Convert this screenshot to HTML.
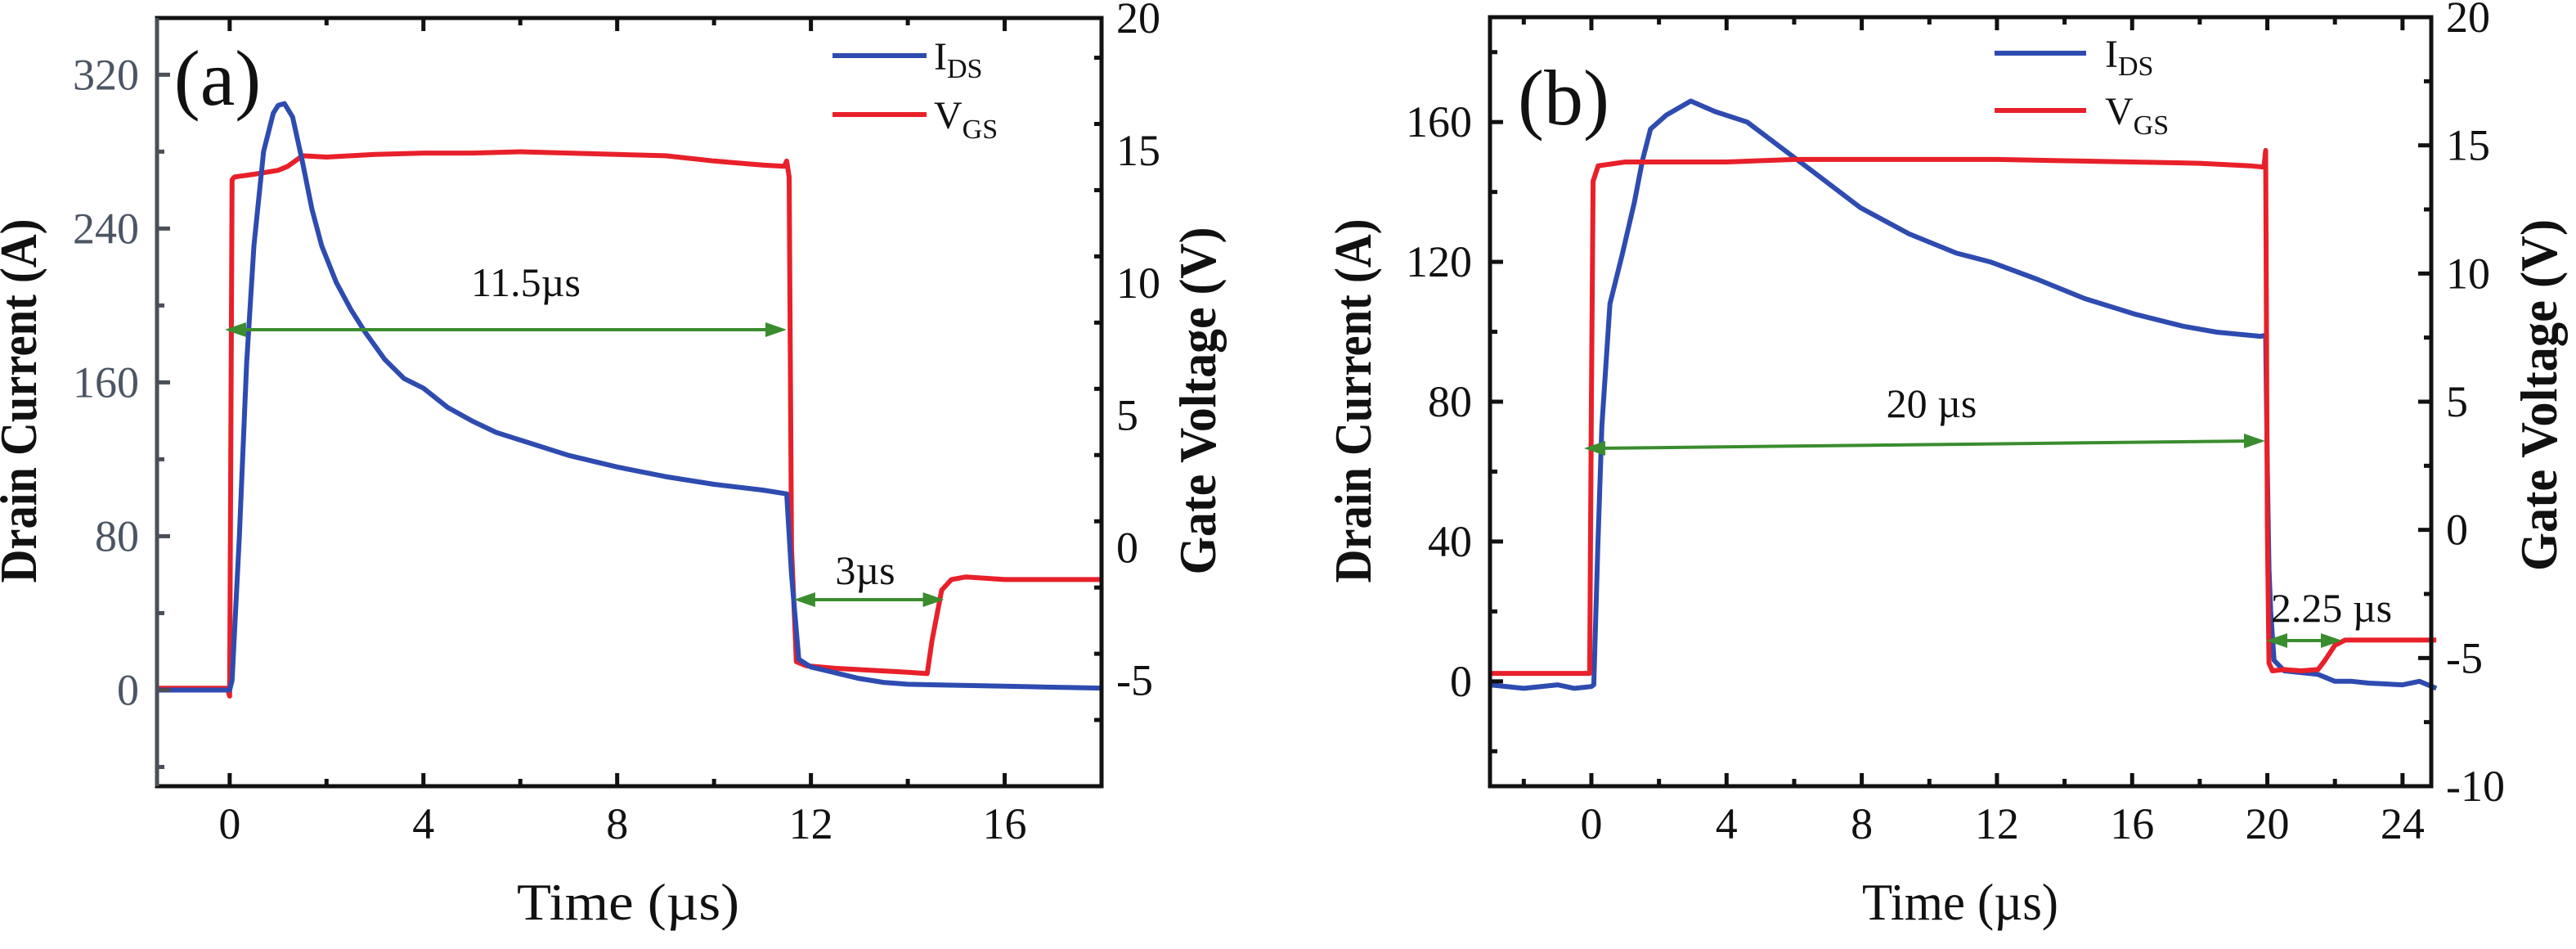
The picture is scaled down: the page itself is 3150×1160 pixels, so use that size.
<!DOCTYPE html>
<html><head><meta charset="utf-8"><style>
html,body{margin:0;padding:0;background:#fff;}
svg{display:block;}
svg text{font-family:"Liberation Serif","Times New Roman",Times,serif;}
</style></head><body>
<svg id="fig" width="3150" height="1160" viewBox="0 0 3150 1160" xmlns="http://www.w3.org/2000/svg" font-family="Liberation Serif, Times New Roman, serif">
<g id="pa"></g>
<g id="pb"></g>
</svg>
<script>
// ---- Panel (a) data ----
const aIdsT = [-1.5,-0.5,0,0.05,0.2,0.35,0.5,0.7,0.9,1.0,1.13,1.3,1.5,1.7,1.9,2.2,2.5,2.8,3.2,3.6,4,4.5,5,5.5,6,7,8,9,10,11,11.5,11.6,11.75,12,12.5,13,13.5,14,15,16,17,18];
const aIdsV = [0,0,0,5,80,170,231,280,300,304,305,298,275,250,231,212,198,186,172,162,157,147,140,134,130,122,116,111,107,104,102,60,16,12,9,6,4,3,2.5,2,1.5,1];
const aVgsT = [-1.5,-0.5,-0.05,0,0.05,0.1,0.5,1.0,1.2,1.5,2,3,4,5,6,7,8,9,10,11,11.45,11.5,11.55,11.6,11.7,11.9,12.5,13,13.5,14,14.4,14.5,14.7,14.9,15.2,16,17,18];
const aVgsV = [-5.3,-5.3,-5.3,-5.6,13.9,14.0,14.1,14.25,14.4,14.8,14.75,14.85,14.9,14.9,14.95,14.9,14.85,14.8,14.6,14.45,14.4,14.6,14.0,0,-4.3,-4.45,-4.55,-4.6,-4.65,-4.7,-4.75,-3.5,-1.6,-1.2,-1.1,-1.2,-1.2,-1.2];
const aXTicks = [0,4,8,12,16];
const aYTicks = [0,80,160,240,320];
const aVTicks = [-5,0,5,10,15,20];
// ---- Panel (b) data ----
const bIdsT = [-3,-2,-1,-0.5,0,0.07,0.19,0.31,0.55,0.91,1.27,1.51,1.75,2.22,2.94,3.66,4.61,5.57,6.53,7.96,9.4,10.8,11.8,13.2,14.6,16.1,17.5,18.5,19.8,19.95,20.0,20.05,20.1,20.2,20.5,21,21.5,22,22.5,23,24,24.5,25];
const bIdsV = [-1,-2,-1,-2,-1.5,-1,38,73,108,122,137,149,158,162,166,163,160,153,146,135.5,128,122.5,120,115,109.5,105,101.6,99.9,98.7,99,60,32,20,6,3,2.5,2,0,0,-0.5,-1,0,-2];
const bVgsT = [-3,-1,-0.05,0,0.05,0.2,1,2,4,6,8,10,12,14,16,18,19.5,19.9,19.95,20.0,20.05,20.15,20.5,21,21.5,21.7,22,22.3,23,24,25];
const bVgsV = [-5.6,-5.6,-5.6,5,13.6,14.2,14.35,14.35,14.35,14.45,14.45,14.45,14.45,14.4,14.35,14.3,14.2,14.15,14.8,0,-5.2,-5.5,-5.45,-5.5,-5.45,-5.1,-4.5,-4.3,-4.3,-4.3,-4.3];
const bXTicks = [0,4,8,12,16,20,24];
const bYTicks = [0,40,80,120,160];
const bVTicks = [-10,-5,0,5,10,15,20];

const NS = "http://www.w3.org/2000/svg";
const FF = '"Liberation Serif","Times New Roman",serif';
function mk(parent, tag, attrs, text){
  const e = document.createElementNS(NS, tag);
  for (const k in attrs) e.setAttribute(k, attrs[k]);
  if (tag === "text") e.setAttribute("font-family", FF);
  if (text !== undefined) e.textContent = text;
  parent.appendChild(e);
  return e;
}
function panel(g, cfg){
  const X = t => cfg.L + (t - cfg.xmin) / (cfg.xmax - cfg.xmin) * (cfg.R - cfg.L);
  const Y = a => cfg.B - (a - cfg.ymin) / (cfg.ymax - cfg.ymin) * (cfg.B - cfg.T);
  const V = v => cfg.B - (v - cfg.vmin) / (cfg.vmax - cfg.vmin) * (cfg.B - cfg.T);
  let pts = cfg.vgsT.map((t,i)=>X(t).toFixed(1)+","+V(cfg.vgsV[i]).toFixed(1)).join(" ");
  let p = mk(g,"polyline",{points:pts,fill:"none",stroke:"#e8202a","stroke-width":6,"stroke-linejoin":"round"});
  
  
  pts = cfg.idsT.map((t,i)=>X(t).toFixed(1)+","+Y(cfg.idsV[i]).toFixed(1)).join(" ");
  p = mk(g,"polyline",{points:pts,fill:"none",stroke:"#2e4bb0","stroke-width":6,"stroke-linejoin":"round"});
  
  
  if (cfg.vgsOnTop) g.appendChild(g.children[0]);
  const fr = mk(g,"rect",{x:cfg.L,y:cfg.T,width:cfg.R-cfg.L,height:cfg.B-cfg.T,fill:"none",stroke:"#111","stroke-width":5});
  
  
  if (cfg.leftColor) mk(g,"line",{x1:cfg.L,y1:cfg.T,x2:cfg.L,y2:cfg.B,stroke:cfg.leftColor,"stroke-width":5});
  const xs = cfg.xTicks[1]-cfg.xTicks[0];
  for (let t = cfg.xTicks[0]-xs/2*Math.ceil((cfg.xTicks[0]-cfg.xmin)/(xs/2)); t <= cfg.xmax+1e-6; t += xs/2){
    if (t < cfg.xmin-1e-6) continue;
    const maj = cfg.xTicks.some(v=>Math.abs(v-t)<1e-6);
    const len = maj?16:9, x = X(t);
    mk(g,"line",{x1:x,y1:cfg.B,x2:x,y2:cfg.B-len,stroke:"#111","stroke-width":5});
    mk(g,"line",{x1:x,y1:cfg.T,x2:x,y2:cfg.T+len,stroke:"#111","stroke-width":5});
  }
  cfg.xTicks.forEach(t=>{
    const tx = mk(g,"text",{x:X(t),y:cfg.B+64,"text-anchor":"middle","font-size":54,fill:"#111"},String(t));
    
    
  });
  const ys = cfg.yTicks[1]-cfg.yTicks[0];
  for (let a = cfg.yTicks[0]-ys; a <= cfg.ymax; a += ys/2){
    if (a < cfg.ymin) continue;
    const maj = cfg.yTicks.some(v=>Math.abs(v-a)<1e-6);
    mk(g,"line",{x1:cfg.L,y1:Y(a),x2:cfg.L+(maj?16:9),y2:Y(a),stroke:cfg.leftColor||"#111","stroke-width":5});
  }
  cfg.yTicks.forEach(a=>{
    const tx = mk(g,"text",{x:cfg.L-22,y:Y(a)+18,"text-anchor":"end","font-size":54,fill:cfg.leftLabelColor},String(a));
    
    
  });
  for (let v = cfg.vmin; v <= cfg.vmax+1e-6; v += 2.5){
    const maj = cfg.vTicks.some(w=>Math.abs(w-v)<1e-6);
    mk(g,"line",{x1:cfg.R,y1:V(v),x2:cfg.R-(maj?16:9),y2:V(v),stroke:"#111","stroke-width":5});
  }
  cfg.vTicks.forEach(v=>{
    const tx = mk(g,"text",{x:cfg.R+18,y:V(v)+18,"text-anchor":"start","font-size":54,fill:"#111"},String(v));
    
    
  });
  return {X,Y,V};
}
function arrow(g, x1, y1, x2, y2){
  const ln = mk(g,"line",{x1:x1+14,y1:y1,x2:x2-14,y2:y2,stroke:"#3a8c2e","stroke-width":4});
  
  
  mk(g,"polygon",{points:`${x1},${y1} ${x1+26},${y1-9} ${x1+26},${y1+9}`,fill:"#3a8c2e"});
  mk(g,"polygon",{points:`${x2},${y2} ${x2-26},${y2-9} ${x2-26},${y2+9}`,fill:"#3a8c2e"});
}
function legend(g, x1, x2, y1, y2, tx){
  let l = mk(g,"line",{x1:x1,y1:y1,x2:x2,y2:y1,stroke:"#2e4bb0","stroke-width":6});
  
  
  l = mk(g,"line",{x1:x1,y1:y2,x2:x2,y2:y2,stroke:"#e8202a","stroke-width":6});
  
  
  let t = mk(g,"text",{x:tx,y:y1+17,"font-size":48,fill:"#111"});
  
  
  t.innerHTML = 'I<tspan font-size="34" dy="10">DS</tspan>';
  t = mk(g,"text",{x:tx,y:y2+17,"font-size":48,fill:"#111"});
  
  
  t.innerHTML = 'V<tspan font-size="34" dy="12">GS</tspan>';
}
function label(g, txt, x, y, size, name, rot, len, weight){
  const a = {x:x,y:y,"text-anchor":"middle","font-size":size,fill:"#111"};
  if (rot) a.transform = `rotate(${rot} ${x} ${y})`;
  if (len) { a.textLength = len; a.lengthAdjust = "spacingAndGlyphs"; }
  if (weight) a["font-weight"] = weight;
  const t = mk(g,"text",a,txt);
  
  
}

const ga = document.getElementById('pa');
const A = panel(ga,{L:192,R:1347,T:22,B:961,xmin:-1.5,xmax:18,ymin:-50,ymax:349.5,vmin:-9,vmax:20,
  idsT:aIdsT,idsV:aIdsV,vgsT:aVgsT,vgsV:aVgsV,xTicks:aXTicks,yTicks:aYTicks,vTicks:aVTicks,
  leftColor:"#4a4f58",leftLabelColor:"#4b5563"});
arrow(ga, A.X(-0.1), 403, A.X(11.5), 403);
label(ga,"11.5µs",643,362,50,"annotation-11-5us");
arrow(ga, A.X(11.65), 733, A.X(14.75), 733);
label(ga,"3µs",1058,714,50,"annotation-3us");
legend(ga,1018,1133,68,140,1142);
label(ga,"(a)",266,128,96,"panel-label-a");
label(ga,"Drain Current (A)",44,490,64,"y-axis-title-left-a",-90,445,"bold");
label(ga,"Gate Voltage (V)",1486,490,64,"y-axis-title-right-a",-90,425,"bold");
label(ga,"Time (µs)",768,1124,64,"x-axis-title-a",0,272);

const gb = document.getElementById('pb');
const B = panel(gb,{L:1822,R:2973,T:21,B:961,xmin:-3,xmax:24.85,ymin:-30,ymax:190,vmin:-10,vmax:20,
  idsT:bIdsT,idsV:bIdsV,vgsT:bVgsT,vgsV:bVgsV,xTicks:bXTicks,yTicks:bYTicks,vTicks:bVTicks,
  leftLabelColor:"#111",vgsOnTop:true});
arrow(gb, 1937, 548, 2770, 539);
label(gb,"20 µs",2362,510,50,"annotation-20us");
arrow(gb, 2771, 783, 2864, 783);
label(gb,"2.25 µs",2851,760,50,"annotation-2-25us");
legend(gb,2439,2551,65,135,2574);
label(gb,"(b)",1912,152,96,"panel-label-b");
label(gb,"Drain Current (A)",1676,490,64,"y-axis-title-left-b",-90,445,"bold");
label(gb,"Gate Voltage (V)",3126,483,64,"y-axis-title-right-b",-90,430,"bold");
label(gb,"Time (µs)",2397,1124,64,"x-axis-title-b",0,240);
</script>
</body></html>
